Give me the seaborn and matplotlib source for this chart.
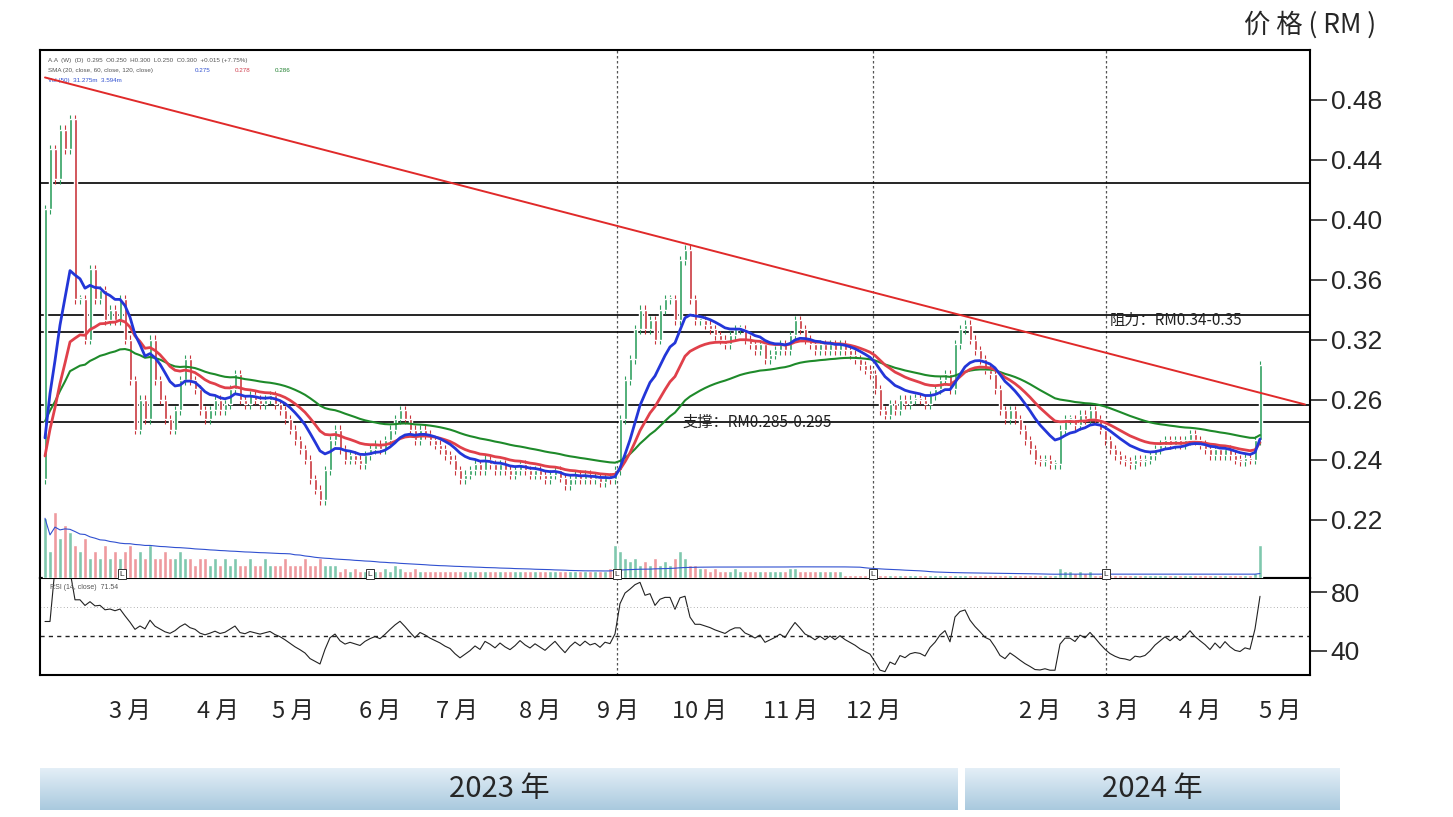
import numpy as np
import pandas as pd
import matplotlib
matplotlib.use("Agg")
import matplotlib.pyplot as plt
import seaborn as sns

sns.set_theme(style="white")
plt.rcParams["font.family"] = ["Liberation Sans", "Noto Sans CJK SC", "DejaVu Sans"]

# ---------------- data (chart units) ----------------
closes = [
    .407, .447, .427, .460, .447, .467, .347, .347, .320, .367,
    .347, .353, .333, .340, .333, .347, .320, .293, .260, .280,
    .267, .320, .293, .280, .267, .260, .273, .293, .307, .293,
    .287, .273, .267, .273, .280, .273, .277, .287, .297, .280,
    .277, .283, .280, .277, .280, .283, .277, .273, .267, .260,
    .253, .247, .240, .227, .220, .213, .233, .253, .260, .247,
    .240, .243, .240, .237, .243, .247, .250, .247, .253, .260,
    .267, .273, .267, .260, .253, .260, .257, .253, .250, .247,
    .243, .240, .233, .227, .230, .233, .237, .233, .240, .237,
    .233, .237, .233, .230, .233, .237, .233, .230, .233, .230,
    .227, .230, .233, .228, .223, .227, .230, .227, .230, .227,
    .228, .225, .228, .227, .233, .267, .293, .307, .327, .340,
    .327, .333, .320, .340, .347, .347, .333, .373, .380, .347,
    .333, .333, .330, .327, .323, .320, .317, .323, .327, .327,
    .320, .317, .313, .317, .307, .310, .313, .317, .313, .323,
    .333, .327, .320, .317, .313, .317, .313, .317, .313, .317,
    .313, .310, .307, .303, .300, .297, .287, .273, .270, .277,
    .273, .280, .277, .280, .281, .280, .277, .283, .287, .293,
    .297, .287, .317, .327, .330, .320, .313, .307, .300, .297,
    .287, .273, .267, .273, .267, .260, .253, .247, .240, .239,
    .240, .237, .237, .260, .267, .267, .263, .270, .267, .273,
    .267, .260, .253, .247, .243, .240, .239, .237, .240, .239,
    .240, .243, .247, .250, .253, .250, .253, .250, .253, .257,
    .253, .250, .247, .243, .247, .243, .247, .243, .240, .239,
    .241, .240, .253, .303,
]
first_open = 0.227

volumes = [
    9, 4, 10, 6, 8, 7, 5, 4, 6, 3,
    4, 3, 5, 3, 4, 3, 4, 5, 3, 4,
    3, 5, 3, 3, 4, 3, 3, 4, 3, 3,
    2, 3, 3, 2, 3, 2, 3, 2, 3, 2,
    2, 3, 2, 2, 3, 2, 2, 2, 3, 2,
    2, 2, 3, 2, 2, 3, 2, 2, 2, 1,
    1.5, 1, 1.5, 1, 1, 1.5, 1, 1, 1.5, 1,
    2, 1.5, 1, 1, 1.5, 1, 1, 1, 1, 1,
    1, 1, 1, 1, 1, 1, 1, 1, 1, 1,
    1, 1, 1, 1, 1, 1, 1, 1, 1, 1,
    1, 1, 1, 1, 1, 1, 1, 1, 1, 1,
    1, 1, 1, 1.5, 5, 4, 3, 2.5, 3, 2,
    2.5, 2, 3, 2, 2.5, 2, 3, 4, 3, 2,
    2, 1.5, 1.5, 1, 1.5, 1, 1, 1, 1.5, 1,
    1, 1, 1, 1, 1, 1, 1, 1, 1, 1.5,
    1.5, 1, 1, 1, 1, 1, 1, 1, 1, 1,
    0.5, 0.5, 0.5, 0.5, 0.5, 0.5, 0.5, 0.5, 0.5, 0.5,
    0.5, 0.5, 0.5, 0.5, 0.5, 0.5, 0.5, 0.5, 0.5, 0.5,
    0.5, 0.5, 0.5, 0.5, 0.5, 0.5, 0.5, 0.5, 0.5, 0.5,
    0.5, 0.5, 0.5, 0.5, 0.5, 0.5, 0.5, 0.5, 0.5, 0.5,
    0.5, 0.5, 0.5, 1.5, 1, 1, 0.8, 1, 0.8, 1,
    0.5, 0.5, 0.5, 0.5, 0.5, 0.5, 0.5, 0.5, 0.5, 0.5,
    0.5, 0.5, 0.5, 0.5, 0.5, 0.5, 0.5, 0.5, 0.5, 0.5,
    0.5, 0.5, 0.5, 0.5, 0.5, 0.5, 0.5, 0.5, 0.5, 0.5,
    0.5, 0.5, 0.8, 5,
]

month_labels = ["3 月", "4 月", "5 月", "6 月", "7 月", "8 月", "9 月", "10 月",
                "11 月", "12 月", "2 月", "3 月", "4 月", "5 月"]
month_pos = [17, 34.6, 49.6, 67, 82.4, 99, 114.6, 131, 149.2, 165.6, 199, 214.6, 231, 247]

price_tick_pos = [0.48, 0.44, 0.40, 0.36, 0.32, 0.28, 0.24, 0.20]
price_tick_labels = ["0.48", "0.44", "0.40", "0.36", "0.32", "0.26", "0.24", "0.22"]

h_levels = [0.4247, 0.3367, 0.3253, 0.2767, 0.2653]
trend_x = [0, 252]
trend_y = [0.495, 0.277]
event_pos = [114.4, 165.6, 212.2]
l_marks = [15.4, 65, 114.4, 165.6, 212.2]

# ---------------- derived via pandas ----------------
n = len(closes)
df = pd.DataFrame({"i": np.arange(n), "close": closes, "vol": volumes[:n] + [0.5] * max(0, n - len(volumes))})
df["open"] = df["close"].shift(1).fillna(first_open)
seeded = pd.Series([first_open] + closes)
df["ma_blue"] = seeded.ewm(span=12, adjust=False).mean().iloc[1:].values
df["ma_red"] = seeded.ewm(span=22, adjust=False).mean().iloc[1:].values
df["ma_green"] = pd.Series([0.26] + closes).ewm(span=50, adjust=False).mean().iloc[1:].values
delta = df["close"].diff()
gain = delta.clip(lower=0).ewm(alpha=1 / 14, adjust=False).mean()
loss = (-delta.clip(upper=0)).ewm(alpha=1 / 14, adjust=False).mean()
df["rsi"] = (100 - 100 / (1 + gain / loss.replace(0, np.nan))).fillna(60)

# ---------------- figure ----------------
W, H = 1453, 817
fig = plt.figure(figsize=(W / 100, H / 100), dpi=100)
fig.patch.set_facecolor("white")

def rect(x0, y0, x1, y1):
    return [x0 / W, 1 - y1 / H, (x1 - x0) / W, (y1 - y0) / H]

ax = fig.add_axes(rect(40, 50, 1310, 578))
axr = fig.add_axes(rect(40, 578, 1310, 675), sharex=ax)
axv = fig.add_axes(rect(40, 505, 1310, 578), sharex=ax)
axv.patch.set_alpha(0)
xlim = (-1, 253)

# candles
up = df["close"] >= df["open"]
for sel, col in [(up, "#2e9e5e"), (~up, "#c9343a")]:
    d = df[sel]
    lo = np.minimum(d["open"], d["close"])
    hi = np.maximum(d["open"], d["close"])
    ax.vlines(d["i"], lo - 0.003, hi + 0.003, color=col, lw=0.8, zorder=3)
    ax.bar(d["i"], np.maximum(hi - lo, 0.0015), bottom=lo, width=0.6, color=col, zorder=3)

sns.lineplot(data=df, x="i", y="ma_green", ax=ax, color="#1e8a2a", lw=1.5, zorder=4)
sns.lineplot(data=df, x="i", y="ma_red", ax=ax, color="#e0404a", lw=2, zorder=4)
sns.lineplot(data=df, x="i", y="ma_blue", ax=ax, color="#2336d8", lw=2, zorder=5)

for lv in h_levels:
    ax.axhline(lv, color="black", lw=1.2, zorder=2)
ax.plot(trend_x, trend_y, color="#e02a2a", lw=1.4, zorder=4)
for ev in event_pos:
    for a in (ax, axr):
        a.axvline(ev, color="#555555", lw=0.9, ls=(0, (2, 2)), zorder=1)

cjk = "Noto Sans CJK SC"
ax.text(213, 0.3275, "阻力：RM0.34-0.35", fontsize=11, color="#222222", va="bottom", family=cjk)
ax.text(127.5, 0.2595, "支撑：RM0.285-0.295", fontsize=11, color="#222222", va="bottom", family=cjk)
ax.text(0.5, 0.505, "A.A  (W)  (D)  0.295  O0.250  H0.300  L0.250  C0.300  +0.015 (+7.75%)",
        fontsize=4.5, color="#555555")
ax.text(0.5, 0.4985, "SMA (20, close, 60, close, 120, close)", fontsize=4.5, color="#555555")
ax.text(30, 0.4985, "0.275", fontsize=4.5, color="#3050d0")
ax.text(38, 0.4985, "0.278", fontsize=4.5, color="#d04050")
ax.text(46, 0.4985, "0.286", fontsize=4.5, color="#208030")
ax.text(0.5, 0.492, "Vol (50)  31.275m  3.594m", fontsize=4.5, color="#3050d0")

ax.set_xlim(*xlim)
ax.set_ylim(0.1613, 0.5133)
ax.yaxis.tick_right()
ax.set_yticks(price_tick_pos)
ax.set_yticklabels(price_tick_labels)
ax.tick_params(axis="y", direction="out", length=12, width=1.2, labelsize=19, pad=3)
ax.tick_params(axis="x", bottom=False, labelbottom=False)
ax.set_xlabel("")
ax.set_ylabel("")

# volume
vcols = np.where(up, "#7fc8ae", "#ee9a9e")
axv.bar(df["i"], df["vol"], width=0.8, color=vcols)
axv.plot(df["i"], df["vol"].rolling(50, min_periods=1).mean(), color="#3050d0", lw=0.8)
axv.set_ylim(0, 11)
axv.axis("off")
for lm in l_marks:
    axv.text(lm, 0.6, "L", fontsize=6, ha="center", va="center",
             bbox=dict(boxstyle="square,pad=0.2", fc="white", ec="#333333", lw=0.7))

# RSI
axr.plot(df["i"], df["rsi"], color="#222222", lw=0.8)
axr.axhline(50.2, color="#222222", lw=1, ls=(0, (3, 3)))
axr.axhline(70, color="#999999", lw=0.6, ls=(0, (1, 3)))
axr.text(1, 82, "RSI (14, close)  71.54", fontsize=5, color="#555555")
axr.set_ylim(23.7, 89.5)
axr.yaxis.tick_right()
axr.set_yticks([80, 40])
axr.tick_params(axis="y", direction="out", length=12, width=1.2, labelsize=19, pad=3)
axr.set_xticks(month_pos)
axr.set_xticklabels(month_labels, family=cjk)
axr.tick_params(axis="x", direction="out", length=14, width=1.2, labelsize=17, pad=4)
axr.set_xlim(*xlim)

for a in (ax, axr):
    for s in a.spines.values():
        s.set_color("black")
        s.set_linewidth(1.5)

fig.text(1310 / W, 1 - 25 / H, "价 格 ( RM )", fontsize=19, ha="center", va="center", family=cjk)

# year bands
grad = np.linspace(0, 1, 256).reshape(-1, 1)
for (x0, x1, lab) in [(40, 958, "2023 年"), (965, 1340, "2024 年")]:
    bax = fig.add_axes(rect(x0, 768, x1, 810))
    bax.imshow(grad, aspect="auto", cmap=matplotlib.colors.LinearSegmentedColormap.from_list(
        "b", ["#e4eff7", "#a9c9de"]), extent=(0, 1, 0, 1))
    bax.text(0.5, 0.5, lab, fontsize=21, ha="center", va="center", transform=bax.transAxes, family=cjk)
    bax.axis("off")

fig.savefig("out.png", dpi=100)
